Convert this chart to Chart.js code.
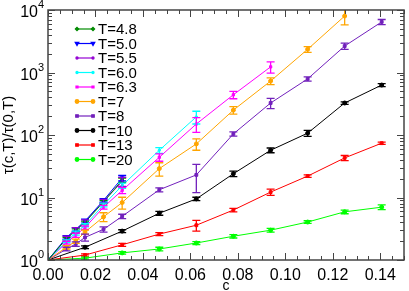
<!DOCTYPE html>
<html>
<head>
<meta charset="utf-8">
<script src="https://cdn.jsdelivr.net/npm/chart.js@4"></script>
<style>
  body { margin: 0; background: #fff; }
  canvas { display: block; }
</style>
</head>
<body>
<canvas id="chart" width="409" height="291"></canvas>
<script>
// concentrazioni c (asse x)
const cVals = [0, 0.0078, 0.0117, 0.0156, 0.0234, 0.03125, 0.0469, 0.0625, 0.0781, 0.0938, 0.1094, 0.125, 0.1406];

const tLabels = ['T=4.8', 'T=5.0', 'T=5.5', 'T=6.0', 'T=6.3', 'T=7', 'T=8', 'T=10', 'T=13', 'T=20'];
const yTicks = [1, 10, 100, 1000, 10000];

// tau(c,T)/tau(0,T) per ogni temperatura
const t48 = [1, 2.2, 3.0, 4.0, 8.5, 19];
const t50 = [1, 2.3, 3.1, 4.2, 9.0, 20.5];
const t55 = [1, 2.2, 3.0, 4.1, 8.7, 18];
const t60 = [1, 2.0, 2.7, 3.6, 7.6, 15.5, 57, 195];
const t63 = [1, 1.9, 2.5, 3.3, 7.0, 13, 44, 150, 440, 1230];
const t7  = [1, 1.6, 2.0, 2.8, 4.9, 8.3, 29, 72, 250, 730, 2350, 8000];
const t8  = [1, 1.5, 1.8, 2.3, 3.1, 5.0, 13.3, 23, 104, 325, 790, 2650, 6450];
const t10 = [1, null, null, 1.6, null, 2.9, 5.6, 9.5, 24, 57, 107, 325, 630];
const t13 = [1, null, null, 1.2, null, 1.75, 2.6, 3.6, 6.3, 12.2, 22, 43, 74];
const t20 = [1, null, null, 1.07, null, 1.3, 1.5, 1.87, 2.4, 3.0, 4.05, 5.9, 7.0];

// barre d'errore (semi-ampiezza)
const e48 = [0, 0.1, 0.15, 0.2, 0.5, 1.5];
const e50 = [0, 0.15, 0.2, 0.3, 0.6, 2.0];
const e55 = [0, 0.2, 0.3, 0.3, 0.6, 3];
const e60 = [0, 0.1, 0.2, 0.2, 0.5, 1.5, 6, 45];
const e63 = [0, 0.1, 0.2, 0.2, 0.5, 1.5, 6, 40, 60, 250];
const e7  = [0, 0.1, 0.15, 0.2, 0.8, 1.8, 7, 15, 35, 90, 250, 2200];
const e8  = [0, 0.1, 0.15, 0.3, 0.3, 0.4, 1.0, 11, 8, 60, 60, 300, 600];
const e10 = [0, 0, 0, 0.08, 0, 0.15, 0.4, 0.6, 2.5, 5, 12, 15, 35];
const e13 = [0, 0, 0, 0.05, 0, 0.1, 0.15, 0.7, 0.4, 1.4, 1, 4, 3];
const e20 = [0, 0, 0, 0.04, 0, 0.06, 0.1, 0.1, 0.15, 0.2, 0.2, 0.4, 0.6];

const seriesVals = [t48, t50, t55, t60, t63, t7, t8, t10, t13, t20];
const seriesErr = [e48, e50, e55, e60, e63, e7, e8, e10, e13, e20];

const colors = ['#008b00', '#0000ff', '#9400d3', '#00ffff', '#ff00ff', '#ffa500', '#7221bc', '#000000', '#ff0000', '#00ff00'];
const styles = ['rectRot', 'triangle', 'circle', 'circle', 'rect', 'circle', 'rect', 'circle', 'rect', 'circle'];
const radii = [1.8, 2.3, 1.2, 1.2, 1.6, 2, 2, 2, 2, 2];

const FONT = "'Liberation Sans', Arial, Helvetica, sans-serif";

const datasets = seriesVals.map((vals, i) => ({
    label: tLabels[i],
    data: cVals.map((c, j) => ({ x: c, y: vals[j] === undefined ? null : vals[j] })),
    borderColor: colors[i],
    backgroundColor: colors[i],
    borderWidth: 1,
    pointStyle: styles[i],
    pointRotation: i === 1 ? 180 : 0,
    pointRadius: radii[i],
    pointBorderWidth: 1,
    spanGaps: true,
    tension: 0
}));

const extras = {
    id: 'extras',
    afterDatasetsDraw(chart) {
        const ctx = chart.ctx;
        const xs = chart.scales.x, ys = chart.scales.y;
        const a = chart.chartArea;
        ctx.save();
        ctx.beginPath();
        ctx.rect(a.left, a.top, a.right - a.left, a.bottom - a.top);
        ctx.clip();
        ctx.lineWidth = 1.3;
        seriesVals.forEach((vals, i) => {
            ctx.strokeStyle = colors[i];
            vals.forEach((v, j) => {
                const e = seriesErr[i][j];
                if (v == null || !e) return;
                const x = xs.getPixelForValue(cVals[j]);
                const y1 = ys.getPixelForValue(v + e);
                const y2 = ys.getPixelForValue(Math.max(v - e, 0.01));
                ctx.beginPath();
                ctx.moveTo(x, y1); ctx.lineTo(x, y2);
                ctx.moveTo(x - 4, y1); ctx.lineTo(x + 4, y1);
                ctx.moveTo(x - 4, y2); ctx.lineTo(x + 4, y2);
                ctx.stroke();
            });
        });
        ctx.restore();
    },
    afterDraw(chart) {
        const ctx = chart.ctx;
        const xs = chart.scales.x, ys = chart.scales.y;
        const a = chart.chartArea;
        ctx.save();
        // cornice
        ctx.strokeStyle = '#444';
        ctx.lineWidth = 1.5;
        ctx.strokeRect(a.left, a.top, a.right - a.left, a.bottom - a.top);
        ctx.lineWidth = 1;
        ctx.beginPath();
        // tacche x (verso l'interno, sopra e sotto)
        for (let k = 0; k <= 30; k++) {
            const x = Math.round(xs.getPixelForValue(k * 0.005)) + 0.5;
            const len = k % 4 === 0 ? 7 : 4;
            ctx.moveTo(x, a.bottom); ctx.lineTo(x, a.bottom - len);
            ctx.moveTo(x, a.top); ctx.lineTo(x, a.top + len);
        }
        // tacche y logaritmiche
        for (let d = 1; d <= 10000; d *= 10) {
            for (let m = 1; m <= 9; m++) {
                const v = d * m;
                if (v > 10000) break;
                const y = Math.round(ys.getPixelForValue(v)) + 0.5;
                const len = m === 1 ? 7 : 4;
                ctx.moveTo(a.left, y); ctx.lineTo(a.left + len, y);
                ctx.moveTo(a.right, y); ctx.lineTo(a.right - len, y);
            }
        }
        ctx.stroke();
        // etichette y 10^n
        ctx.fillStyle = '#000';
        yTicks.forEach((v, n) => {
            const y = ys.getPixelForValue(v);
            ctx.font = '16px ' + FONT;
            ctx.textAlign = 'right';
            ctx.textBaseline = 'middle';
            ctx.fillText('10', 38, y + 3);
            ctx.font = '11px ' + FONT;
            ctx.textAlign = 'left';
            ctx.fillText(String(n), 38, y - 5);
        });
        // asse x: titolo
        ctx.font = '14px ' + FONT;
        ctx.textAlign = 'center';
        ctx.textBaseline = 'alphabetic';
        ctx.fillText('c', (a.left + a.right) / 2, 290);
        // legenda
        chart.data.datasets.forEach((ds, i) => {
            const y = 29 + i * 14.5;
            ctx.strokeStyle = colors[i];
            ctx.lineWidth = 1.2;
            ctx.beginPath();
            ctx.moveTo(77, y); ctx.lineTo(93, y);
            ctx.stroke();
            ctx.fillStyle = colors[i];
            [77, 93].forEach(px => {
                Chart.helpers.drawPoint(ctx, {
                    pointStyle: styles[i], radius: radii[i] * 0.9, rotation: i === 1 ? 180 : 0, borderWidth: 1
                }, px, y);
            });
            ctx.fillStyle = '#000';
            ctx.font = '15px ' + FONT;
            ctx.textAlign = 'left';
            ctx.textBaseline = 'middle';
            ctx.fillText(ds.label, 98, y + 1);
        });
        ctx.restore();
    }
};

new Chart(document.getElementById('chart').getContext('2d'), {
    type: 'line',
    data: { datasets: datasets },
    options: {
        responsive: false,
        animation: false,
        layout: { padding: { top: 10, right: 2, left: 0, bottom: 0 } },
        plugins: { legend: { display: false }, tooltip: { enabled: false } },
        scales: {
            x: {
                type: 'linear',
                min: 0,
                max: 0.15,
                grid: { display: false, drawTicks: false },
                border: { display: false },
                ticks: {
                    stepSize: 0.02,
                    includeBounds: false,
                    autoSkip: false,
                    maxRotation: 0,
                    padding: 6,
                    color: '#000',
                    font: { family: FONT, size: 16 },
                    callback: v => v.toFixed(2)
                },
                afterFit: s => { s.height = 31; }
            },
            y: {
                type: 'logarithmic',
                min: 1,
                max: 10000,
                grid: { display: false, drawTicks: false },
                border: { display: false },
                ticks: { display: false },
                title: { display: true, text: 'τ(c,T)/τ(0,T)', color: '#000', font: { family: FONT, size: 15 }, padding: 0 },
                afterFit: s => { s.width = 48; }
            }
        }
    },
    plugins: [extras]
});
</script>
</body>
</html>
